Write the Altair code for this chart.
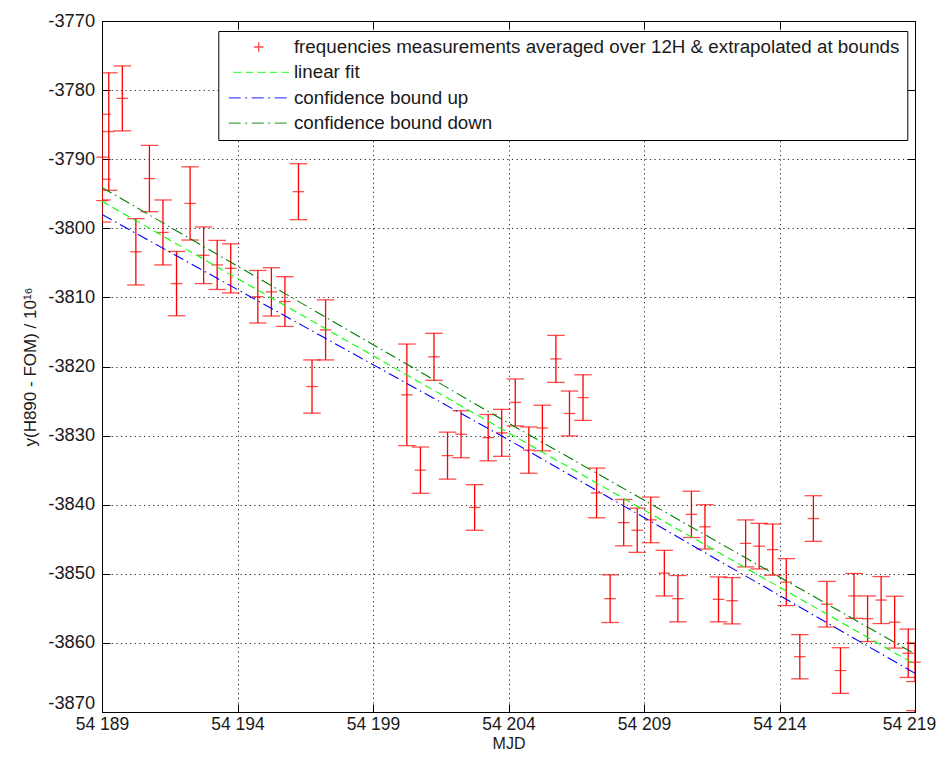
import altair as alt
import pandas as pd

# ---------------- data ----------------
mjd = [54189.00, 54189.00, 54189.25, 54189.75, 54190.25, 54190.75, 54191.25, 54191.75,
       54192.25, 54192.75, 54193.25, 54193.75, 54194.75, 54195.25, 54195.75, 54196.25,
       54196.75, 54197.25, 54200.25, 54200.75, 54201.25, 54201.75, 54202.25, 54202.75,
       54203.25, 54203.75, 54204.25, 54204.75, 54205.25, 54205.75, 54206.25, 54206.75,
       54207.25, 54207.75, 54208.25, 54208.75, 54209.25, 54209.75, 54210.25, 54210.75,
       54211.25, 54211.75, 54212.25, 54212.75, 54213.25, 54213.75, 54214.25, 54214.75,
       54215.25, 54215.75, 54216.25, 54216.75, 54217.25, 54217.75, 54218.25, 54218.75,
       54219.00, 54219.00]
center = [-3789.7, -3796.0, -3786.0, -3781.2, -3803.4, -3792.8, -3800.6, -3808.0,
          -3796.4, -3803.9, -3805.3, -3805.8, -3809.9, -3809.2, -3810.6, -3794.7,
          -3822.9, -3814.7, -3824.1, -3835.0, -3818.6, -3832.9, -3829.8, -3840.4,
          -3830.3, -3829.6, -3825.2, -3832.1, -3828.9, -3818.9, -3826.8, -3824.5,
          -3838.3, -3853.6, -3842.6, -3843.7, -3842.2, -3849.9, -3853.6, -3841.4,
          -3843.2, -3853.7, -3853.9, -3845.6, -3846.0, -3846.5, -3851.2, -3862.0,
          -3842.0, -3854.4, -3864.0, -3853.2, -3856.5, -3853.8, -3857.0, -3861.5,
          -3862.8, -3873.0]
half_err = [6.2, 3.1, 8.5, 4.7, 4.8, 4.8, 4.7, 4.65,
            5.3, 4.1, 3.55, 3.55, 3.8, 3.5, 3.6, 4.05,
            3.85, 4.35, 7.35, 3.35, 3.4, 3.4, 3.4, 3.3,
            3.35, 3.4, 3.4, 3.35, 3.3, 3.4, 3.25, 3.3,
            3.6, 3.45, 3.35, 3.2, 3.3, 3.3, 3.35, 3.35,
            3.2, 3.25, 3.35, 3.4, 3.3, 3.7, 3.4, 3.2,
            3.3, 3.3, 3.3, 3.25, 3.3, 3.4, 3.75, 3.5,
            2.8, 3.2]

fit_x = [54189, 54219]
fit_y = [-3796.1, -3863.1]
up_x = [54189, 54204, 54219]
up_y = [-3798.0, -3830.6, -3864.4]
down_x = [54189, 54204, 54219]
down_y = [-3794.1, -3828.2, -3861.6]

x_ticks = [54189, 54194, 54199, 54204, 54209, 54214, 54219]
y_ticks = [-3870, -3860, -3850, -3840, -3830, -3820, -3810, -3800, -3790, -3780, -3770]

legend_labels = [
    "frequencies measurements averaged over 12H & extrapolated at bounds",
    "linear fit",
    "confidence bound up",
    "confidence bound down",
]
legend_colors = ["#ff0000", "#00ff00", "#0000ff", "#008000"]
# legend glyphs (SVG paths, unit = 5 px)
legend_paths = [
    "M-0.94,0L0.94,0M0,-0.94L0,0.94",
    "M-5.06,0L-3.46,0M-2.6,0L-1.06,0M-0.26,0L1.4,0M2.26,0L3.74,0M4.6,0L6.06,0",
    "M-6,0L-3.6,0M-2.7,0L-2.3,0M-1.4,0L1,0M1.9,0L2.3,0M3.2,0L5.6,0",
    "M-6,0L-3.6,0M-2.7,0L-2.3,0M-1.4,0L1,0M1.9,0L2.3,0M3.2,0L5.6,0",
]

FONT = "Liberation Sans, Arial, sans-serif"
TXT = "#1a1a1a"

xs = alt.Scale(domain=[54189, 54219], nice=False, zero=False)
ys = alt.Scale(domain=[-3870, -3770], nice=False, zero=False)

x_lab = "replace(format(datum.value, ','), ',', ' ')"
y_lab = "'-' + format(abs(datum.value), 'd')"

main_x = alt.Axis(orient="bottom", values=x_ticks, grid=True, gridColor="#000000",
                  gridDash=[1.2, 3.4], gridWidth=1, gridOpacity=0.85, ticks=False, tickSize=0,
                  domain=False, labelExpr=x_lab, labelFont=FONT, labelFontSize=17.5,
                  labelColor=TXT, labelPadding=3.5, labelFlush=False,
                  labelOffset={"condition": {"test": "datum.value >= 54219", "value": -6},
                               "value": 0},
                  title="MJD", titleFont=FONT, titleFontSize=16, titleFontWeight="normal",
                  titleColor=TXT, titleY=36.5, titleBaseline="alphabetic")
main_y = alt.Axis(orient="left", values=y_ticks, grid=True, gridColor="#000000",
                  gridDash=[1.2, 3.4], gridWidth=1, gridOpacity=0.85, ticks=False, tickSize=0,
                  domain=False, labelExpr=y_lab, labelFont=FONT, labelFontSize=18.3,
                  labelColor=TXT, labelPadding=7.4, labelFlush=False,
                  labelOffset={"condition": {"test": "datum.value <= -3870", "value": -9},
                               "value": 0},
                  title="y(H890 - FOM) / 10¹⁶", titleFont=FONT, titleFontSize=17,
                  titleFontWeight="normal", titleColor=TXT, titleX=-66.7,
                  titleBaseline="alphabetic", titleAngle=270)


def inner_axis(orient, values):
    return alt.Axis(orient=orient, values=values, labels=False, domain=False, grid=False,
                    ticks=True, tickSize=8, offset=-8, tickColor="#000000", tickWidth=1,
                    title=None)


bars = pd.DataFrame({"mjd": mjd, "c": center, "e": half_err})
base = alt.Chart(bars).transform_calculate(lo="datum.c - datum.e", hi="datum.c + datum.e")
RED = "#ff0000"

rules = base.mark_rule(color=RED, strokeWidth=1.3, clip=True).encode(
    x=alt.X("mjd:Q", scale=xs, axis=main_x),
    y=alt.Y("lo:Q", scale=ys, axis=main_y),
    y2="hi:Q",
)
caps_lo = base.mark_tick(color=RED, orient="horizontal", size=17.5, thickness=1.3,
                         clip=True).encode(
    x=alt.X("mjd:Q", scale=xs, axis=inner_axis("bottom", x_ticks)),
    y=alt.Y("lo:Q", scale=ys, axis=inner_axis("left", y_ticks)),
)
caps_hi = base.mark_tick(color=RED, orient="horizontal", size=17.5, thickness=1.3,
                         clip=True).encode(
    x=alt.X("mjd:Q", scale=xs, axis=inner_axis("top", x_ticks)),
    y=alt.Y("hi:Q", scale=ys, axis=inner_axis("right", y_ticks)),
)
centers = base.transform_filter("datum.c >= -3870").mark_tick(
    color=RED, orient="horizontal", size=11.5, thickness=1.3, clip=False).encode(
    x=alt.X("mjd:Q", scale=xs, axis=None),
    y=alt.Y("c:Q", scale=ys, axis=None),
)


def line_layer(xv, yv, color, dash):
    df = pd.DataFrame({"x": xv, "y": yv})
    return alt.Chart(df).mark_line(color=color, strokeDash=dash, strokeWidth=1.1,
                                   clip=True).encode(
        x=alt.X("x:Q", scale=xs, axis=None),
        y=alt.Y("y:Q", scale=ys, axis=None),
    )


fit_line = line_layer(fit_x, fit_y, "#00ff00", [7.5, 4.5])
up_line = line_layer(up_x, up_y, "#0000ff", [11, 4, 1.5, 4])
down_line = line_layer(down_x, down_y, "#008000", [11, 4, 1.5, 4])

leg = alt.Legend(title=None, orient="none", legendX=116.3, legendY=10,
                 fillColor="white", strokeColor="black", padding=7, rowPadding=6.4,
                 clipHeight=18, symbolSize=100, symbolOffset=24, labelOffset=25.8,
                 symbolStrokeWidth=1.3, labelFont=FONT, labelFontSize=18.8,
                 labelColor=TXT, labelLimit=2000)

legend_layer = alt.Chart(pd.DataFrame({"series": legend_labels})).transform_filter(
    "false").mark_point(filled=False, strokeWidth=1.3).encode(
    color=alt.Color("series:N", scale=alt.Scale(domain=legend_labels, range=legend_colors),
                    legend=leg),
    shape=alt.Shape("series:N", scale=alt.Scale(domain=legend_labels, range=legend_paths),
                    legend=leg),
)

chart = alt.layer(
    rules, caps_lo, caps_hi, centers, fit_line, up_line, down_line, legend_layer
).resolve_axis(
    x="independent", y="independent"
).properties(
    width=813, height=691,
    autosize=alt.AutoSizeParams(type="none"),
    padding={"left": 94, "top": 13, "right": 23, "bottom": 40},
    background="white",
).configure_view(stroke="#000000", strokeWidth=1)

chart.save("out.html", embed_options={"renderer": "svg", "actions": False})
